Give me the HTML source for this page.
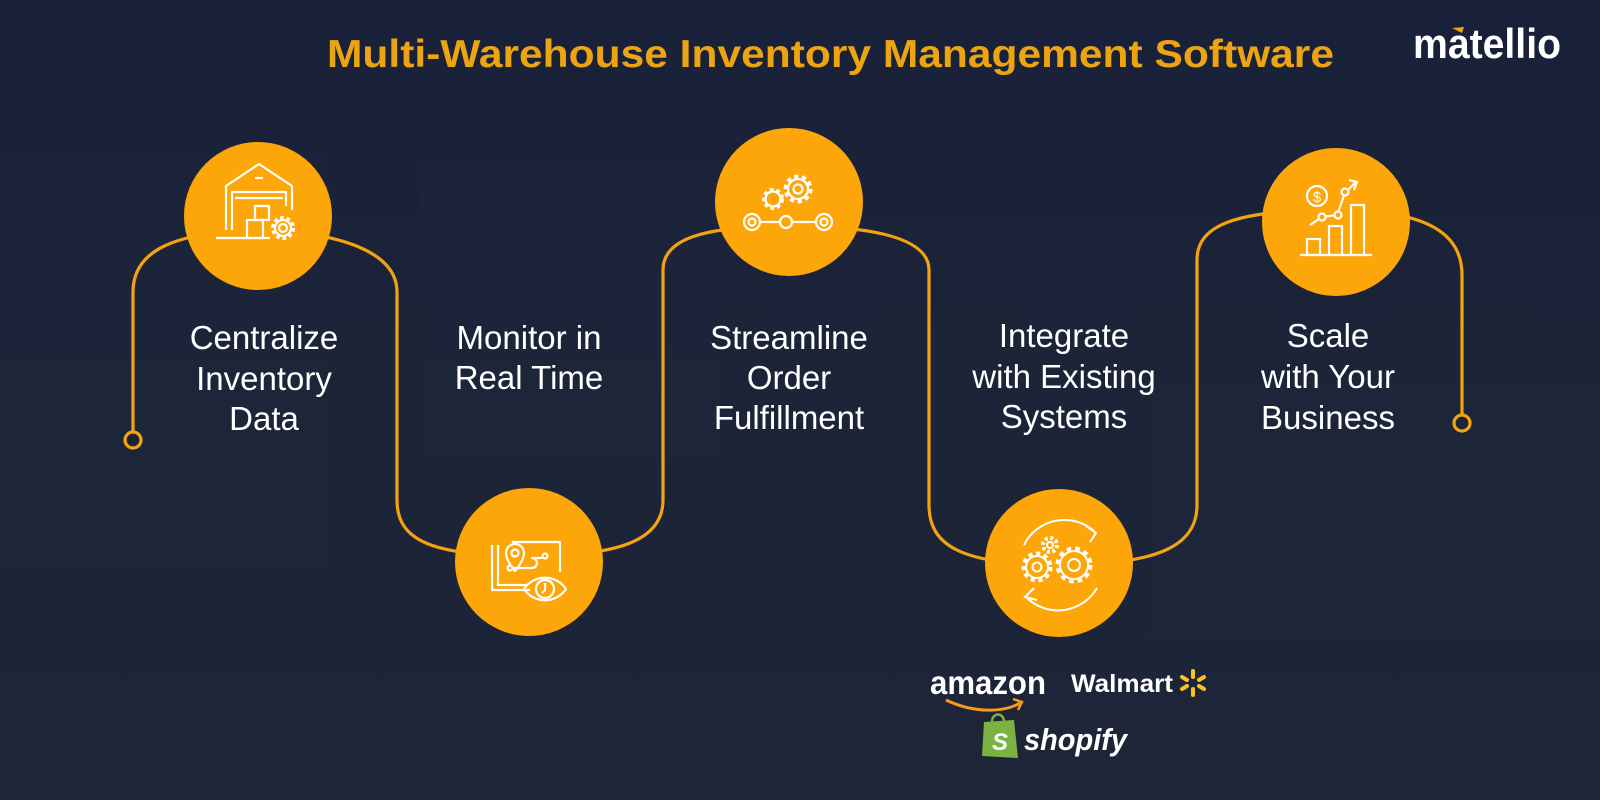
<!DOCTYPE html>
<html><head><meta charset="utf-8"><style>
html,body{margin:0;padding:0;width:1600px;height:800px;overflow:hidden;background:#1b2336}
svg{display:block}
</style></head><body>
<svg width="1600" height="800" viewBox="0 0 1600 800" xmlns="http://www.w3.org/2000/svg">
<defs>
<linearGradient id="bg" x1="0" y1="0" x2="0" y2="1">
<stop offset="0" stop-color="#19213a"/><stop offset="0.5" stop-color="#1c2437"/><stop offset="1" stop-color="#1e2538"/>
</linearGradient>
</defs>
<rect width="1600" height="800" fill="url(#bg)"/>
<g opacity="0.12" fill="#2a3246">
<rect x="0" y="150" width="330" height="420"/>
<rect x="420" y="160" width="300" height="300"/>
<rect x="1150" y="380" width="450" height="260"/>
<ellipse cx="370" cy="765" rx="65" ry="75"/>
<ellipse cx="630" cy="765" rx="65" ry="75"/>
</g>

<path fill="none" stroke="#f2a30f" stroke-width="3.2" d="
M133,433 L133,292 C133,250 175,232 258,230
C340,232 397,252 397,292 L397,500 C397,540 430,556 529,556
C620,556 663,540 663,500 L663,270 C663,240 700,226 789,226
C880,226 929,240 929,270 L929,505 C929,545 960,565 1059,565
C1160,565 1197,545 1197,505 L1197,260 C1197,225 1235,210 1336,210
C1430,210 1462,235 1462,275 L1462,416"/>
<circle cx="133" cy="440" r="8" fill="#1b2336" stroke="#f2a30f" stroke-width="3.2"/>
<circle cx="1462" cy="423" r="8" fill="#1b2336" stroke="#f2a30f" stroke-width="3.2"/>

<g fill="#fda60a">
<circle cx="258" cy="216" r="74"/>
<circle cx="529" cy="562" r="74"/>
<circle cx="789" cy="202" r="74"/>
<circle cx="1059" cy="563" r="74"/>
<circle cx="1336" cy="222" r="74"/>
</g>

<g fill="none" stroke="#fff" stroke-width="2.2" stroke-linejoin="round">
<path d="M226,230 L226,186 L259,164 L292,186 L292,210"/>
<path d="M232,230 L232,192 L286,192 L286,206"/>
<line x1="235" y1="198" x2="283" y2="198"/>
<line x1="216" y1="238" x2="270" y2="238"/>
<line x1="255" y1="178" x2="263" y2="178"/>
<rect x="255" y="206" width="14" height="14"/>
<rect x="247" y="220" width="16" height="18"/>
<circle cx="283" cy="228" r="10" stroke-dasharray="3.5 2.8" stroke-width="4"/>
<circle cx="283" cy="228" r="8"/>
<circle cx="283" cy="228" r="4"/>
</g>

<g fill="none" stroke="#fff" stroke-width="2.2" stroke-linejoin="round">
<path d="M492,545 L492,590 L530,590"/>
<path d="M498,545 L498,585 L528,585"/>
<path d="M512,542 L560,542 L560,572"/>
<path d="M506,553 a9,9 0 1 1 18,0 c0,8 -9,18 -9,18 c0,0 -9,-10 -9,-18z"/>
<circle cx="515" cy="553" r="3.5"/>
<path d="M512,568 L532,568 a5,5 0 0 0 0,-10 L542,558"/>
<circle cx="545" cy="556" r="2.5"/>
<circle cx="510" cy="568" r="2.5"/>
<path d="M524,589 C534,574 556,574 566,589 C556,604 534,604 524,589z"/>
<circle cx="545" cy="589" r="9"/>
<path d="M545,583 L545,590 L542,593"/>
</g>

<g fill="none" stroke="#fff" stroke-width="2.2">
<circle cx="798" cy="189" r="12" stroke-dasharray="4 3.5" stroke-width="5"/>
<circle cx="798" cy="189" r="10"/>
<circle cx="798" cy="189" r="4.5"/>
<circle cx="773" cy="199" r="9" stroke-dasharray="3.5 3" stroke-width="4"/>
<circle cx="773" cy="199" r="7.5"/>
<circle cx="752" cy="222" r="8"/><circle cx="752" cy="222" r="3.5"/>
<circle cx="786" cy="222" r="6"/>
<circle cx="824" cy="222" r="8"/><circle cx="824" cy="222" r="3.5"/>
<line x1="760" y1="222" x2="780" y2="222"/>
<line x1="792" y1="222" x2="816" y2="222"/>
</g>

<g fill="none" stroke="#fff" stroke-width="2">
<path d="M1027,598 A45,45 0 0 0 1097,588"/>
<path d="M1094,531 A45,45 0 0 0 1024,545"/>
<path d="M1034,588 L1025,597 L1037,600"/>
<path d="M1086,526 L1096,533 L1090,542"/>
<circle cx="1037" cy="567" r="13" stroke-dasharray="4 3.5" stroke-width="5"/>
<circle cx="1037" cy="567" r="11"/><circle cx="1037" cy="567" r="4.5"/>
<circle cx="1074" cy="565" r="16" stroke-dasharray="4.5 4" stroke-width="5"/>
<circle cx="1074" cy="565" r="14"/><circle cx="1074" cy="565" r="6"/>
<circle cx="1050" cy="545" r="7" stroke-dasharray="3 2.5" stroke-width="4"/>
<circle cx="1050" cy="545" r="3"/>
</g>

<g fill="none" stroke="#fff" stroke-width="2.2">
<circle cx="1317" cy="196" r="10"/>
<text x="1317" y="202" font-family="Liberation Sans, sans-serif" font-size="15" fill="#fff" stroke="none" text-anchor="middle">$</text>
<line x1="1300" y1="255" x2="1372" y2="255"/>
<rect x="1307" y="239" width="13" height="16"/>
<rect x="1329" y="226" width="13" height="29"/>
<rect x="1351" y="205" width="13" height="50"/>
<path d="M1310,225 L1322,217 L1337,215 L1345,193 L1355,183"/>
<circle cx="1322" cy="217" r="3.5" fill="#fda60a"/>
<circle cx="1338" cy="215" r="3.5" fill="#fda60a"/>
<circle cx="1345" cy="192" r="3.5" fill="#fda60a"/>
<path d="M1349,180 L1357,182 L1354,190"/>
</g>

<text x="327" y="67" font-family="Liberation Sans, sans-serif" font-weight="bold" font-size="39" fill="#eda411" textLength="1007" lengthAdjust="spacingAndGlyphs">Multi-Warehouse Inventory Management Software</text>
<text x="1413" y="58" font-family="Liberation Sans, sans-serif" font-weight="bold" font-size="42" fill="#fff" textLength="148" lengthAdjust="spacingAndGlyphs">matellio</text>
<path d="M1452,28 L1464,27 L1462,33z" fill="#f2a30f"/>

<g font-family="Liberation Sans, sans-serif" font-size="33" fill="#fff" text-anchor="middle">
<text x="264" y="349">Centralize</text>
<text x="264" y="390">Inventory</text>
<text x="264" y="430">Data</text>
<text x="529" y="349">Monitor in</text>
<text x="529" y="389">Real Time</text>
<text x="789" y="349">Streamline</text>
<text x="789" y="389">Order</text>
<text x="789" y="429">Fulfillment</text>
<text x="1064" y="347">Integrate</text>
<text x="1064" y="388">with Existing</text>
<text x="1064" y="428">Systems</text>
<text x="1328" y="347">Scale</text>
<text x="1328" y="388">with Your</text>
<text x="1328" y="429">Business</text>
</g>

<text x="930" y="694" font-family="Liberation Sans, sans-serif" font-weight="bold" font-size="33" fill="#fff" textLength="116" lengthAdjust="spacingAndGlyphs">amazon</text>
<path d="M946,700 C975,714 1005,712 1020,703" fill="none" stroke="#f39a1f" stroke-width="3"/>
<path d="M1013,699 L1022,702 L1018,710" fill="none" stroke="#f39a1f" stroke-width="2.5"/>
<text x="1071" y="692" font-family="Liberation Sans, sans-serif" font-weight="bold" font-size="25" fill="#fff" textLength="102" lengthAdjust="spacingAndGlyphs">Walmart</text>
<g stroke="#fcc220" stroke-width="4" stroke-linecap="round">
<line x1="1193" y1="671" x2="1193" y2="677"/>
<line x1="1193" y1="689" x2="1193" y2="695"/>
<line x1="1182" y1="677" x2="1187" y2="680"/>
<line x1="1199" y1="686" x2="1204" y2="689"/>
<line x1="1182" y1="689" x2="1187" y2="686"/>
<line x1="1199" y1="680" x2="1204" y2="677"/>
</g>
<path d="M984,722 L1014,720 L1018,758 L982,756z" fill="#7ab341"/>
<path d="M992,722 C992,712 1004,712 1004,722" fill="none" stroke="#7ab341" stroke-width="2.5"/>
<text x="992" y="750" font-family="Liberation Sans, sans-serif" font-weight="bold" font-style="italic" font-size="24" fill="#fff">S</text>
<text x="1024" y="750" font-family="Liberation Sans, sans-serif" font-weight="bold" font-style="italic" font-size="31" fill="#fff" textLength="103" lengthAdjust="spacingAndGlyphs">shopify</text>
</svg>
</body></html>
